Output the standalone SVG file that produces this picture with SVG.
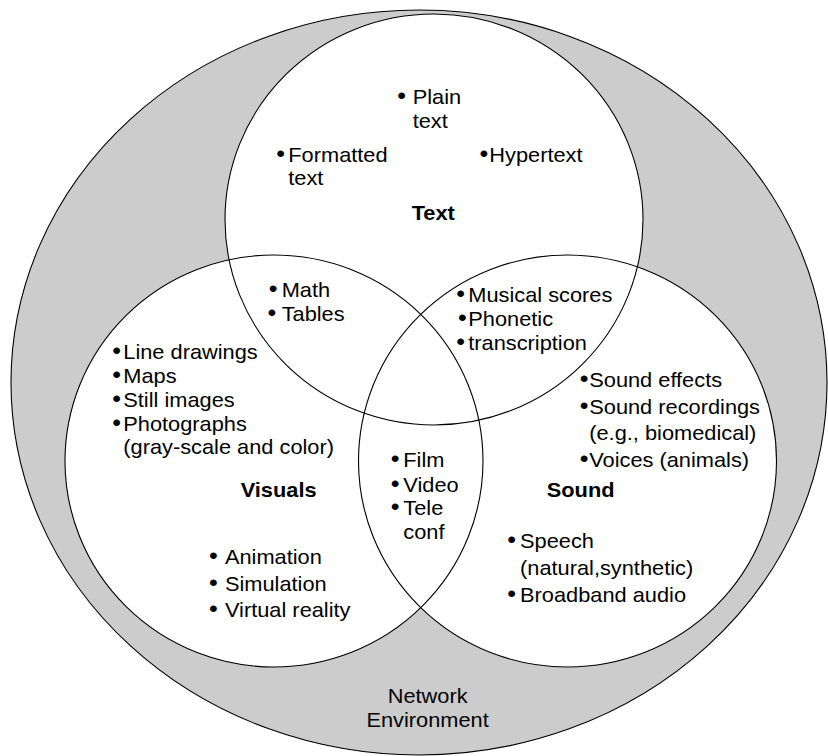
<svg xmlns="http://www.w3.org/2000/svg" width="828" height="756" viewBox="0 0 828 756">
<style>
.shape{stroke:#000;stroke-width:1.1}
.fill{fill:#fff;stroke:none}
.ring{fill:none;stroke:#000;stroke-width:1.1}
text{font-family:"Liberation Sans",Arial,Helvetica,sans-serif;font-size:20px;fill:#000}
.b{font-weight:bold}
.d{font-size:23px}
</style>
<rect width="828" height="756" fill="#fff"/>
<g id="shapes">
<ellipse id="network-env" class="shape" cx="419" cy="382.5" rx="408" ry="372.5" fill="#cccccc"/>
<ellipse class="fill" cx="434" cy="219.5" rx="209" ry="205.5"/>
<ellipse class="fill" cx="274" cy="461" rx="209" ry="206"/>
<ellipse class="fill" cx="567.5" cy="461" rx="209" ry="206"/>
<ellipse class="ring" cx="434" cy="219.5" rx="209" ry="205.5"/>
<ellipse class="ring" cx="274" cy="461" rx="209" ry="206"/>
<ellipse class="ring" cx="567.5" cy="461" rx="209" ry="206"/>
</g>
<g transform="scale(1.09 1)">
<g id="text-node">
<text><tspan class="d" x="364.5" y="104">•</tspan><tspan x="378.6" y="104">Plain</tspan><tspan x="378.6" y="127.7">text</tspan></text>
<text><tspan class="d" x="253.5" y="161.7">•</tspan><tspan x="264.5" y="161.7">Formatted</tspan><tspan x="264.5" y="185.3">text</tspan></text>
<text><tspan class="d" x="440" y="161.7">•</tspan><tspan x="448.9" y="161.7">Hypertext</tspan></text>
<text class="b" x="377.7" y="220">Text</text>
</g>
<g id="text-visuals">
<text><tspan class="d" x="246.5" y="296.7">•</tspan><tspan x="258.4" y="296.7">Math</tspan></text>
<text><tspan class="d" x="245.5" y="320.7">•</tspan><tspan x="258.4" y="320.7">Tables</tspan></text>
</g>
<g id="text-sound">
<text><tspan class="d" x="418.7" y="302.3">•</tspan><tspan x="429.6" y="302.3">Musical scores</tspan></text>
<text><tspan class="d" x="420.1" y="326">•</tspan><tspan x="429.6" y="326">Phonetic</tspan></text>
<text><tspan class="d" x="418.7" y="350">•</tspan><tspan x="429.6" y="350">transcription</tspan></text>
</g>
<g id="visuals-node">
<text><tspan class="d" x="103.1" y="359.3">•</tspan><tspan x="113.1" y="359.3">Line drawings</tspan></text>
<text><tspan class="d" x="103.1" y="383.3">•</tspan><tspan x="113.1" y="383.3">Maps</tspan></text>
<text><tspan class="d" x="103.1" y="406.7">•</tspan><tspan x="113.1" y="406.7">Still images</tspan></text>
<text><tspan class="d" x="103.1" y="430.7">•</tspan><tspan x="113.1" y="430.7">Photographs</tspan><tspan x="113.1" y="454.3">(gray-scale and color)</tspan></text>
<text class="b" x="220.8" y="496.7">Visuals</text>
<text><tspan class="d" x="191.7" y="564">•</tspan><tspan x="206.4" y="564">Animation</tspan></text>
<text><tspan class="d" x="191.7" y="590.7">•</tspan><tspan x="206.4" y="590.7">Simulation</tspan></text>
<text><tspan class="d" x="191.7" y="617.3">•</tspan><tspan x="206.4" y="617.3">Virtual reality</tspan></text>
</g>
<g id="center-node">
<text><tspan class="d" x="358.4" y="467.3">•</tspan><tspan x="370" y="467.3">Film</tspan></text>
<text><tspan class="d" x="358.4" y="491.7">•</tspan><tspan x="370" y="491.7">Video</tspan></text>
<text><tspan class="d" x="358.4" y="515">•</tspan><tspan x="370" y="515">Tele</tspan><tspan x="370" y="539">conf</tspan></text>
</g>
<g id="sound-node">
<text><tspan class="d" x="531.8" y="387">•</tspan><tspan x="540.6" y="387">Sound effects</tspan></text>
<text><tspan class="d" x="531.8" y="413.7">•</tspan><tspan x="540.6" y="413.7">Sound recordings</tspan><tspan x="540.6" y="439.7">(e.g., biomedical)</tspan></text>
<text><tspan class="d" x="531.8" y="466.7">•</tspan><tspan x="540.6" y="466.7">Voices (animals)</tspan></text>
<text class="b" x="501.6" y="496.7">Sound</text>
<text><tspan class="d" x="465.4" y="548.3">•</tspan><tspan x="477.1" y="548.3">Speech</tspan><tspan x="477.1" y="575">(natural,synthetic)</tspan></text>
<text><tspan class="d" x="465.4" y="601.7">•</tspan><tspan x="477.1" y="601.7">Broadband audio</tspan></text>
</g>
<g id="network-node">
<text text-anchor="middle"><tspan x="392.3" y="703.3">Network</tspan><tspan x="392.3" y="727.3">Environment</tspan></text>
</g>
</g>
<g id="connectors"/>
</svg>
